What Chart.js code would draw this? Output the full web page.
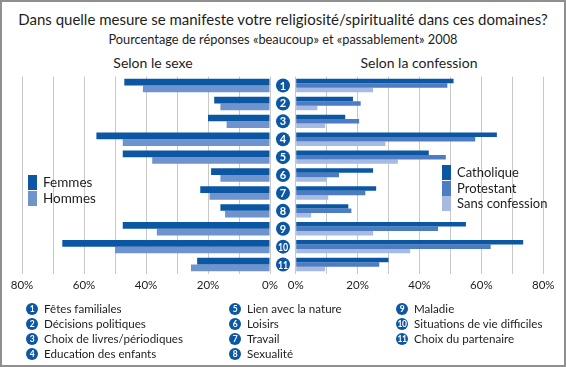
<!DOCTYPE html>
<html>
<head>
<meta charset="utf-8">
<script src="https://cdn.jsdelivr.net/npm/chart.js@4"></script>
<style>
  html, body { margin: 0; padding: 0; background: #fff; }
  #frame {
    position: relative; width: 566px; height: 367px; box-sizing: border-box;
    border: 2px solid #8f8f8f; background: #fff; overflow: hidden;
    font-family: Lato, "Open Sans", sans-serif; color: #1d1d1d;
  }
  .txt { position: absolute; white-space: nowrap; }
  .box { position: absolute; }
  .chartBox { position: absolute; }
  .badge {
    position: absolute; width: 12px; height: 12px; border-radius: 50%;
    background: #0b57a4; color: #fff; font: bold 8.5px Lato, sans-serif;
    line-height: 12px; text-align: center; letter-spacing: -0.5px;
  }
</style>
</head>
<body>
<div id="frame">
  <div class="txt" style="left:0;width:562px;text-align:center;top:8px;font-size:15px;">Dans quelle mesure se manifeste votre religiosité/spiritualité dans ces domaines?</div>
  <div class="txt" style="left:0;width:562px;text-align:center;top:29px;font-size:12.8px;">Pourcentage de réponses «beaucoup» et «passablement» 2008</div>
  <div class="txt" style="left:101px;width:100px;text-align:center;top:52px;font-size:14px;">Selon le sexe</div>
  <div class="txt" style="left:337px;width:160px;text-align:center;top:52px;font-size:14px;">Selon la confession</div>

  <div class="chartBox" style="left:-2px;top:68px;width:298px;height:230px;"><canvas id="sexeChart"></canvas></div>
  <div class="chartBox" style="left:268px;top:68px;width:296px;height:230px;"><canvas id="confChart"></canvas></div>

  <div id="legendSexe"></div>
  <div id="legendConf"></div>
  <div id="legendCats"></div>
</div>

<script>
// ---- Données ----
const categories = ['Fêtes familiales', 'Décisions politiques', 'Choix de livres/périodiques', 'Education des enfants',
                    'Lien avec la nature', 'Loisirs', 'Travail', 'Sexualité', 'Maladie',
                    'Situations de vie difficiles', 'Choix du partenaire'];
const femmes = [47, 18, 20, 56, 47.5, 19, 22.5, 16, 47.5, 67, 23.5];
const hommes = [41, 16, 14, 47.5, 38, 16, 19.5, 14.5, 36.5, 50, 25.5];
const catholique = [51, 18.5, 16, 65, 43, 25, 26, 17, 55, 73.5, 30];
const protestant = [49, 21, 20.5, 58, 48.5, 14, 22.5, 18, 46, 63, 27];
const sansConfession = [25, 7, 9.5, 29, 33, 10, 10.5, 5, 25, 37, 9.5];
const tickValues = [0, 20, 40, 60, 80];

const DARK = '#0b57a4';
const sexeSeries = [
  { label: 'Femmes', data: femmes, color: DARK },
  { label: 'Hommes', data: hommes, color: '#6f93cd' }
];
const confSeries = [
  { label: 'Catholique', data: catholique, color: DARK },
  { label: 'Protestant', data: protestant, color: '#4d7cc2' },
  { label: 'Sans confession', data: sansConfession, color: '#a6bae2' }
];
const labels = categories.map((c, i) => String(i + 1));

// axe commun
function xAxis(reverse) {
  return {
    reverse: reverse, min: 0, max: 80,
    grid: { color: '#c8c8c8', lineWidth: 1, drawTicks: false },
    border: { display: false },
    ticks: {
      stepSize: 10, padding: 4.6, color: '#1d1d1d',
      font: { family: 'Lato', size: 11.5 },
      callback: v => tickValues.includes(v) ? v + '%' : ''
    }
  };
}

// pastilles numérotées entre les deux graphiques
const badgePlugin = {
  id: 'badges',
  afterDraw(chart) {
    const ctx = chart.ctx;
    const y = chart.scales.y;
    const cx = chart.chartArea.right + 13;
    ctx.save();
    labels.forEach((lab, i) => {
      const cy = y.getPixelForValue(i);
      ctx.beginPath();
      ctx.arc(cx, cy, 7, 0, Math.PI * 2);
      ctx.fillStyle = DARK;
      ctx.fill();
      ctx.fillStyle = '#fff';
      ctx.font = 'bold 11px Lato';
      ctx.textAlign = 'center';
      ctx.textBaseline = 'middle';
      if (lab.length > 1) {
        ctx.translate(cx, cy + 0.5);
        ctx.scale(0.8, 1);
        ctx.fillText(lab, 0, 0);
        ctx.setTransform(1, 0, 0, 1, 0, 0);
      } else {
        ctx.fillText(lab, cx, cy + 0.5);
      }
    });
    ctx.restore();
  }
};

function makeChart(id, series, reverse, padding, plugins) {
  return new Chart(document.getElementById(id), {
    type: 'bar',
    data: {
      labels: labels,
      datasets: series.map(s => ({
        label: s.label, data: s.data, backgroundColor: s.color,
        categoryPercentage: 0.75, barPercentage: 1.0
      }))
    },
    options: {
      indexAxis: 'y',
      responsive: true,
      maintainAspectRatio: false,
      animation: false,
      layout: { padding: padding },
      plugins: { legend: { display: false }, tooltip: { enabled: false } },
      scales: {
        x: xAxis(reverse),
        y: { display: false }
      }
    },
    plugins: plugins
  });
}

makeChart('sexeChart', sexeSeries, true, { left: 22, right: 28, top: 6.6, bottom: 3.5 }, [badgePlugin]);
makeChart('confChart', confSeries, false, { left: 25.7, right: 22.7, top: 6.6, bottom: 3.5 }, []);

// ---- légendes ----
function addLegend(containerId, series, x, y, textX, fontSize) {
  const el = document.getElementById(containerId);
  series.forEach((s, i) => {
    const top = y + i * 15.5;
    el.insertAdjacentHTML('beforeend',
      `<div class="box" style="left:${x}px;top:${top}px;width:9px;height:15px;background:${s.color}"></div>` +
      `<div class="txt" style="left:${textX}px;top:${top}px;line-height:15px;font-size:${fontSize}px">${s.label}</div>`);
  });
}
addLegend('legendSexe', sexeSeries, 26, 173, 41, 13.5);
addLegend('legendConf', confSeries, 440, 163, 455, 13);

const colX = [30, 233, 400];
const catEl = document.getElementById('legendCats');
categories.forEach((c, i) => {
  const col = i < 4 ? 0 : (i < 8 ? 1 : 2);
  const row = i < 4 ? i : (i < 8 ? i - 4 : i - 8);
  const top = 300 + row * 15;
  catEl.insertAdjacentHTML('beforeend',
    `<div class="badge" style="left:${colX[col] - 6}px;top:${top + 0.5}px">${i + 1}</div>` +
    `<div class="txt" style="left:${colX[col] + 12}px;top:${top}px;line-height:13px;font-size:11.6px">${c}</div>`);
});
</script>
</body>
</html>
